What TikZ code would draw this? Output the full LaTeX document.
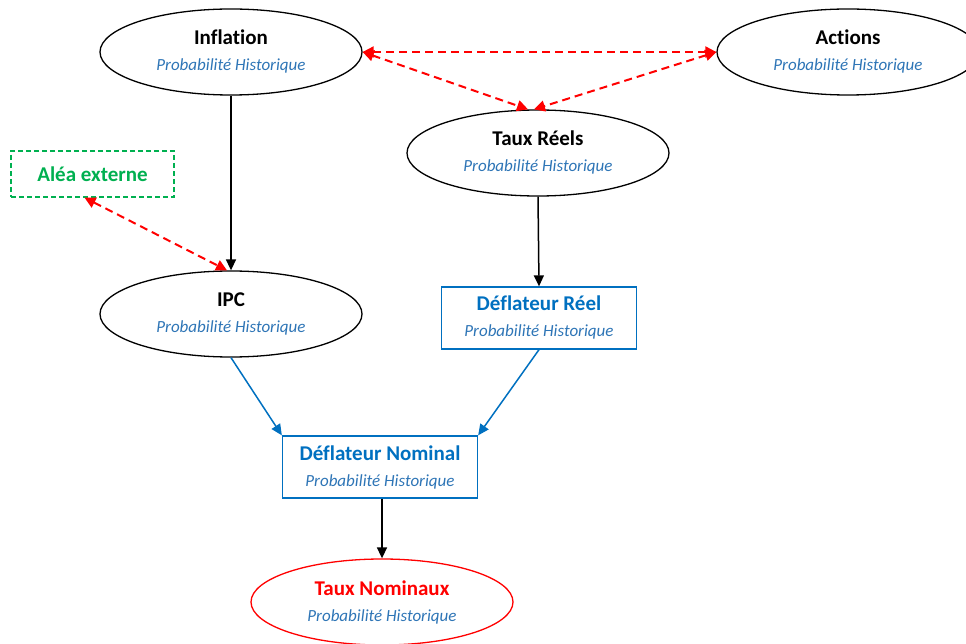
\documentclass[tikz,border=0pt]{standalone}
\usepackage{fontspec}
\setmainfont[Ligatures=CommonOff]{Carlito}
\usetikzlibrary{shapes.geometric,arrows.meta}
\definecolor{dblue}{HTML}{0070C0}
\definecolor{sblue}{HTML}{2E75B6}
\definecolor{dgreen}{HTML}{00B050}
\definecolor{dred}{HTML}{FF0000}
\newcommand{\ttl}[1]{{\fontsize{21}{26}\selectfont\bfseries #1}}
\newcommand{\sub}[1]{{\fontsize{17}{26}\selectfont\itshape\color{sblue}#1}}
\begin{document}
\begin{tikzpicture}[x=1pt,y=-1pt,
  every node/.style={font=\fontsize{17}{26}\selectfont,align=center},
  ell/.style={ellipse,draw=black,line width=1.3pt,minimum width=262pt,minimum height=86pt,inner sep=0pt},
  redell/.style={ell,draw=dred},
  bluebox/.style={rectangle,draw=dblue,line width=1.3pt,minimum width=195pt,minimum height=62pt,inner sep=0pt},
  greenbox/.style={rectangle,draw=dgreen,dash pattern=on 5pt off 3pt,line width=1.3pt,minimum width=163pt,minimum height=46pt,inner sep=0pt},
  blk/.style={draw=black,line width=1.5pt,-{Triangle[length=11pt,width=10pt]}},
  blu/.style={draw=dblue,line width=1.5pt,-{Triangle[length=11pt,width=10pt]}},
  rdd/.style={draw=dred,line width=2pt,dash pattern=on 8pt off 5pt,{Triangle[length=11pt,width=11pt]}-{Triangle[length=11pt,width=11pt]}}
]
\useasboundingbox (0,0) rectangle (966,644);
\node[ell] (infl) at (231,52) {\ttl{Inflation}\\\sub{Probabilité Historique}};
\node[ell] (act) at (848,52) {\ttl{Actions}\\\sub{Probabilité Historique}};
\node[ell] (tr) at (538,153) {\ttl{Taux Réels}\\\sub{Probabilité Historique}};
\node[greenbox] (alea) at (92.5,174) {\textcolor{dgreen}{\ttl{Aléa externe}}};
\node[ell] (ipc) at (231,314) {\ttl{IPC}\\\sub{Probabilité Historique}};
\node[bluebox] (dr) at (539,318) {\textcolor{dblue}{\ttl{Déflateur Réel}}\\\sub{Probabilité Historique}};
\node[bluebox] (dn) at (380,467) {\textcolor{dblue}{\ttl{Déflateur Nominal}}\\\sub{Probabilité Historique}};
\node[redell] (tn) at (382,602) {\textcolor{dred}{\ttl{Taux Nominaux}}\\\sub{Probabilité Historique}};
\draw[blk] (infl.south) -- (ipc.north);
\draw[blk] (tr.south) -- (dr.north);
\draw[blk] (dn.south -| tn.north) -- (tn.north);
\draw[blu] (ipc.south) -- (dn.north west);
\draw[blu] (dr.south) -- (dn.north east);
\draw[rdd] (infl.east) -- (act.west);
\draw[rdd] (infl.east) -- ([xshift=-10pt]tr.north);
\draw[rdd] (act.west) -- ([xshift=-4pt]tr.north);
\draw[rdd] ([xshift=-8pt]alea.south) -- ([xshift=-4pt]ipc.north);
\end{tikzpicture}
\end{document}
